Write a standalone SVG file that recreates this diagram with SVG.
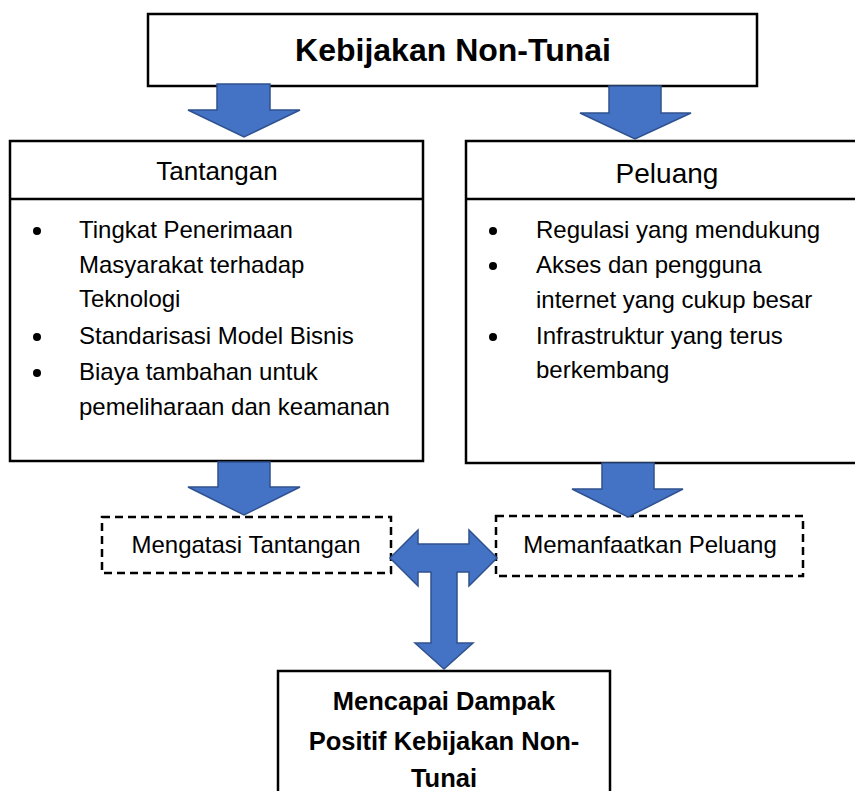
<svg xmlns="http://www.w3.org/2000/svg" width="855" height="791" viewBox="0 0 855 791">
<style>
.box{fill:#fff;stroke:#000;stroke-width:2.5}
.dash{fill:#fff;stroke:#000;stroke-width:2.5;stroke-dasharray:8,5}
.arr{fill:#4472C4;stroke:#2F528F;stroke-width:1.5;stroke-linejoin:miter}
text{font-family:"Liberation Sans",Arial,sans-serif;fill:#000}
.t{font-size:24px}
.b{font-weight:bold}
.c{text-anchor:middle}
.dot{fill:#000}
</style>
<rect width="855" height="791" fill="#fff"/>
<g id="kebijakan">
<rect class="box" x="148" y="14" width="609" height="72"/>
<text class="b c" x="453" y="61" font-size="32">Kebijakan Non-Tunai</text>
</g>
<g id="tantangan">
<rect class="box" x="10" y="141" width="413" height="320"/>
<line class="box" x1="10" y1="199" x2="423" y2="199"/>
<text class="c" x="217" y="180" font-size="26">Tantangan</text>
<circle class="dot" cx="37" cy="231" r="4"/>
<circle class="dot" cx="37" cy="337" r="4"/>
<circle class="dot" cx="37" cy="373" r="4"/>
<text class="t" x="79" y="238">Tingkat Penerimaan</text>
<text class="t" x="79" y="273">Masyarakat terhadap</text>
<text class="t" x="79" y="307">Teknologi</text>
<text class="t" x="79" y="344">Standarisasi Model Bisnis</text>
<text class="t" x="79" y="380">Biaya tambahan untuk</text>
<text class="t" x="79" y="415">pemeliharaan dan keamanan</text>
</g>
<g id="peluang">
<rect class="box" x="466" y="141" width="404" height="322"/>
<line class="box" x1="466" y1="199" x2="870" y2="199"/>
<text class="c" x="667" y="183" font-size="28">Peluang</text>
<circle class="dot" cx="493" cy="231" r="4"/>
<circle class="dot" cx="493" cy="266" r="4"/>
<circle class="dot" cx="493" cy="337" r="4"/>
<text class="t" x="536" y="238">Regulasi yang mendukung</text>
<text class="t" x="536" y="273">Akses dan pengguna</text>
<text class="t" x="536" y="308">internet yang cukup besar</text>
<text class="t" x="536" y="344">Infrastruktur yang terus</text>
<text class="t" x="536" y="378">berkembang</text>
</g>
<g id="mengatasi">
<rect class="dash" x="102" y="517" width="289" height="56"/>
<text class="t c" x="246" y="553">Mengatasi Tantangan</text>
</g>
<g id="memanfaatkan">
<rect class="dash" x="496" y="516" width="307" height="60"/>
<text class="t c" x="650" y="553">Memanfaatkan Peluang</text>
</g>
<g id="dampak">
<rect class="box" x="278" y="671" width="332" height="140"/>
<text class="b c" x="444" y="710" font-size="25.5">Mencapai Dampak</text>
<text class="b c" x="444" y="750" font-size="25.5">Positif Kebijakan Non-</text>
<text class="b c" x="444" y="787" font-size="25.5">Tunai</text>
</g>
<g id="connectors">
<path class="arr" d="M217,84 H270 V110 H300 L244,137 L188,110 H217 Z"/>
<path class="arr" d="M609,86 H661 V113 H691 L635,139 L580,113 H609 Z"/>
<path class="arr" d="M218,462 H270 V487 H300 L244,515 L188,487 H218 Z"/>
<path class="arr" d="M602,463 H654 V489 H683 L628,517 L572,489 H602 Z"/>
<path class="arr" d="M390,558 L418,530 L418,544 L469,544 L469,530 L497,558 L469,586 L469,572 L457,572 L457,643 L473,643 L444,669 L415,643 L431,643 L431,572 L418,572 L418,586 Z"/>
</g>
</svg>
